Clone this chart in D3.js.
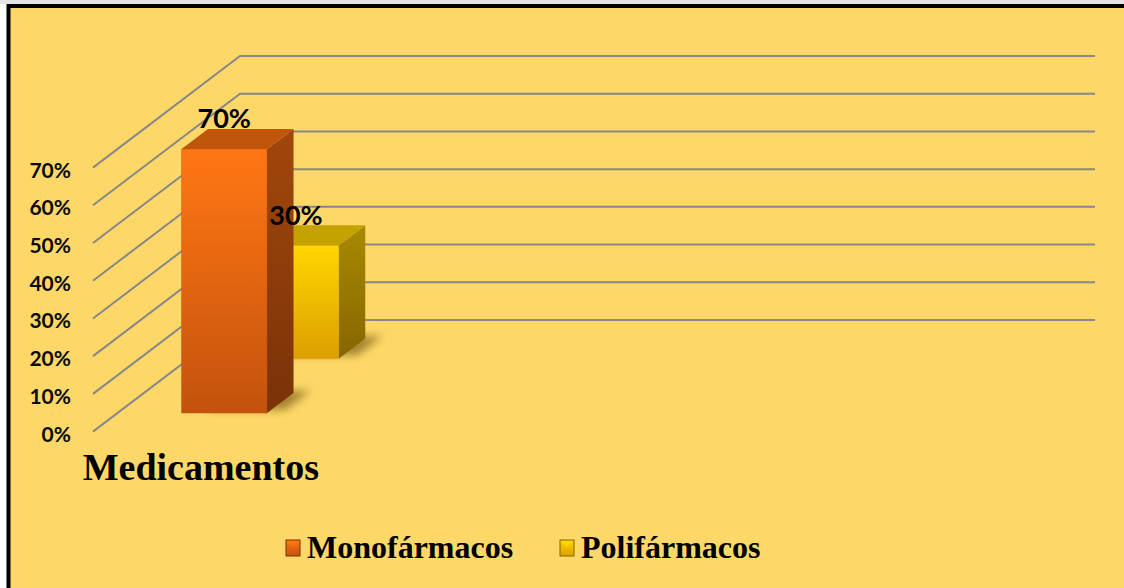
<!DOCTYPE html>
<html>
<head>
<meta charset="utf-8">
<script src="https://cdn.jsdelivr.net/npm/d3@7"></script>
<style>
  html, body { margin: 0; padding: 0; background: #fff; }
  svg { display: block; }
</style>
</head>
<body>
<svg id="chart" width="1124" height="588"></svg>
<script>
// ─── DATA ───
const categories = ['Medicamentos', '', '', ''];
const seriesNames = ['Monofármacos', 'Polifármacos'];
const monoValues = [0.70, null, null, null];
const poliValues = [0.30, null, null, null];
const valueTicks = [0, 0.1, 0.2, 0.3, 0.4, 0.5, 0.6, 0.7];

const seriesValues = { 'Monofármacos': monoValues, 'Polifármacos': poliValues };

// colours: [frontTop, frontBottom, sideTop, sideBottom, top]
const PALETTE = {
  'Monofármacos': ['#ff7714', '#c4520d', '#a2470c', '#7a3208', '#c0560b'],
  'Polifármacos': ['#ffd600', '#dc9f00', '#a88a00', '#866600', '#c4a200']
};

const W = 1124, H = 588;
const svg = d3.select('#chart');
const defs = svg.append('defs');

// ─── FRAME ───
svg.append('rect').attr('x', 0).attr('y', 0).attr('width', W).attr('height', 4).attr('fill', '#e4e4e4');
svg.append('rect')
  .attr('x', 8.5).attr('y', 6).attr('width', W + 20).attr('height', H + 20)
  .attr('fill', '#fdd868').attr('stroke', '#000').attr('stroke-width', 4);

// ─── 3D PROJECTION ───
const origin = { x: 93 };
const depthVec = { x: 147, y: -111.6 };
const floorWidth = 855;

const xScale = d3.scaleBand().domain(d3.range(categories.length)).range([0, floorWidth])
  .paddingInner(0.6).paddingOuter(0.3);
const zScale = d3.scaleBand().domain(seriesNames).range([0, 1])
  .paddingInner(0.63).paddingOuter(0.34);
const yScale = d3.scaleLinear().domain([0, 0.7]).range([431.6, 167.6]);

const proj = (c, v, d) => [origin.x + c + d * depthVec.x, yScale(v) + d * depthVec.y];
const poly = pts => 'M' + pts.map(p => p.join(',')).join('L') + 'Z';

// ─── GRIDLINES (side wall + back wall) ───
const grid = svg.append('g').attr('stroke', '#878787').attr('stroke-width', 2).attr('fill', 'none');
valueTicks.forEach(t => {
  const a = proj(0, t, 0), b = proj(0, t, 1), c = proj(floorWidth, t, 1);
  grid.append('path').attr('d', `M${a}L${b}L${c}`);
});

// tick labels
svg.append('g').selectAll('text').data(valueTicks).enter().append('text')
  .attr('x', 71).attr('y', d => yScale(d) + 1.5)
  .attr('text-anchor', 'end').attr('dominant-baseline', 'central')
  .attr('font-family', 'Lato, sans-serif').attr('font-weight', 700).attr('font-size', 21)
  .attr('fill', '#0a0a0a')
  .text(d3.format('.0%'));

// ─── GRADIENTS & SHADOW ───
seriesNames.forEach((s, i) => {
  const p = PALETTE[s];
  const f = defs.append('linearGradient').attr('id', `front${i}`).attr('x1', 0).attr('y1', 0).attr('x2', 0).attr('y2', 1);
  f.append('stop').attr('offset', 0).attr('stop-color', p[0]);
  f.append('stop').attr('offset', 1).attr('stop-color', p[1]);
  const sd = defs.append('linearGradient').attr('id', `side${i}`).attr('x1', 0).attr('y1', 0).attr('x2', 0).attr('y2', 1);
  sd.append('stop').attr('offset', 0).attr('stop-color', p[2]);
  sd.append('stop').attr('offset', 1).attr('stop-color', p[3]);
  const lg = defs.append('linearGradient').attr('id', `legend${i}`).attr('x1', 0).attr('y1', 0).attr('x2', 0).attr('y2', 1);
  lg.append('stop').attr('offset', 0).attr('stop-color', p[0]);
  lg.append('stop').attr('offset', 1).attr('stop-color', p[1]);
});
defs.append('filter').attr('id', 'shadow').attr('x', '-50%').attr('y', '-50%').attr('width', '200%').attr('height', '200%')
  .append('feGaussianBlur').attr('stdDeviation', 4);

// ─── BARS (back row first) ───
const bars = svg.append('g');
const labels = [];
seriesNames.slice().reverse().forEach(s => {
  const si = seriesNames.indexOf(s);
  const p = PALETTE[s];
  seriesValues[s].forEach((v, ci) => {
    if (v == null) return;
    const c0 = xScale(ci), c1 = c0 + xScale.bandwidth();
    const d0 = zScale(s), d1 = d0 + zScale.bandwidth();

    // soft floor shadow
    bars.append('path')
      .attr('d', poly([proj(c0 + 20, 0, d0 + 0.03), proj(c1 + 14, 0, d0 + 0.03), proj(c1 + 14, 0, d1 + 0.02), proj(c0 + 20, 0, d1 + 0.02)]))
      .attr('fill', '#5a3c00').attr('opacity', 0.55).attr('filter', 'url(#shadow)');

    bars.append('path')
      .attr('d', poly([proj(c1, 0, d0), proj(c1, 0, d1), proj(c1, v, d1), proj(c1, v, d0)]))
      .attr('fill', `url(#side${si})`);
    bars.append('path')
      .attr('d', poly([proj(c0, v, d0), proj(c1, v, d0), proj(c1, v, d1), proj(c0, v, d1)]))
      .attr('fill', p[4]);
    bars.append('path')
      .attr('d', poly([proj(c0, 0, d0), proj(c1, 0, d0), proj(c1, v, d0), proj(c0, v, d0)]))
      .attr('fill', `url(#front${si})`)
      .attr('stroke', p[1]).attr('stroke-opacity', 0.4).attr('stroke-width', 1);

    const top = proj((c0 + c1) / 2, v, d0);
    labels.push({ x: top[0], y: top[1] - 21, v });
  });
});

// data labels
svg.append('g').selectAll('text').data(labels).enter().append('text')
  .attr('x', d => d.x).attr('y', d => d.y)
  .attr('text-anchor', 'middle')
  .attr('font-family', 'Lato, sans-serif').attr('font-weight', 700).attr('font-size', 27)
  .attr('fill', '#000')
  .text(d => d3.format('.0%')(d.v));

// category labels
svg.append('g').selectAll('text').data(categories).enter().append('text')
  .attr('x', (d, i) => proj(xScale(i) + xScale.bandwidth() / 2, 0, 0)[0] + 1)
  .attr('y', 480)
  .attr('text-anchor', 'middle')
  .attr('font-family', '"Liberation Serif", serif').attr('font-weight', 700).attr('font-size', 38)
  .attr('fill', '#000')
  .text(d => d);

// ─── LEGEND ───
const legendX = [286, 560];
const legend = svg.append('g');
seriesNames.forEach((s, i) => {
  const g = legend.append('g').attr('transform', `translate(${legendX[i]},540)`);
  g.append('rect').attr('width', 14).attr('height', 16)
    .attr('fill', `url(#legend${i})`).attr('stroke', PALETTE[s][3]).attr('stroke-width', 1);
  g.append('path').attr('d', 'M1,1L13,1L7,7Z').attr('fill', PALETTE[s][0]).attr('opacity', 0.8);
  g.append('text').attr('x', 21).attr('y', 18)
    .attr('font-family', '"Liberation Serif", serif').attr('font-weight', 700).attr('font-size', 32)
    .attr('fill', '#000')
    .text(s);
});
</script>
</body>
</html>
